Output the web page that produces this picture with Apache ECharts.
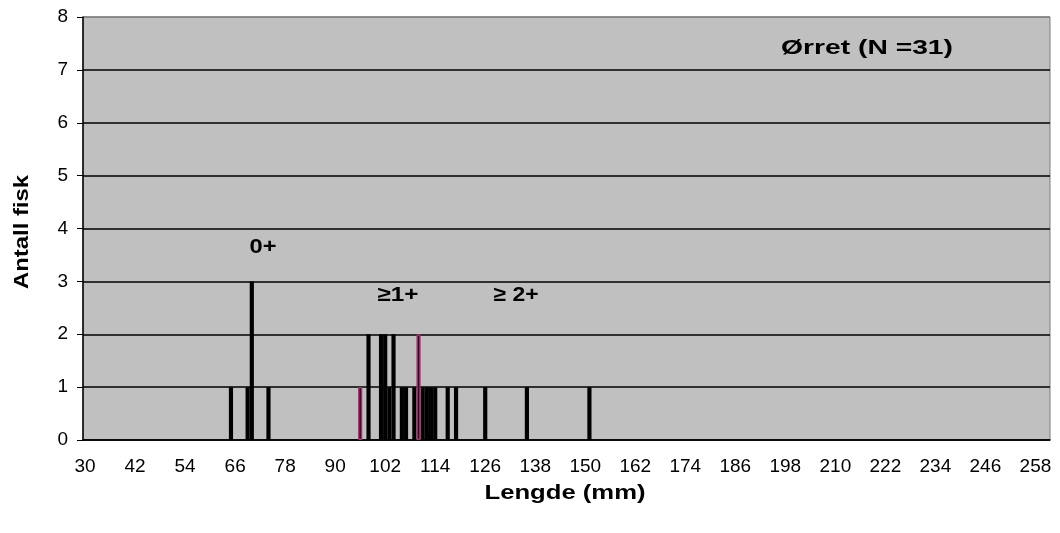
<!DOCTYPE html>
<html>
<head>
<meta charset="utf-8">
<script src="https://cdn.jsdelivr.net/npm/echarts@6/dist/echarts.min.js"></script>
<style>
html,body{margin:0;padding:0;background:#fff;}
#c{width:1060px;height:533px;}
</style>
</head>
<body>
<div id="c"></div>
<script>
// ---- data ----
const firstLength = 30;
const lastLength = 261;
const lengthsBlack = [65, 69, 70, 74, 98, 101, 102, 103, 104, 106, 107, 109, 111, 112, 113, 114, 117, 119, 126, 136, 151];
const countsBlack  = [1, 1, 3, 1, 2, 2, 2, 1, 2, 1, 1, 1, 1, 1, 1, 1, 1, 1, 1, 1, 1];
const lengthsMagenta = [96, 110];
const countsMagenta  = [1, 2];
const yTicks = [0, 1, 2, 3, 4, 5, 6, 7, 8];
const titleText = 'Ørret (N =31)';
const ageLabels = ['0+', '≥1+', '≥ 2+'];
const xName = 'Lengde (mm)';
const yName = 'Antall fisk';

const categories = [];
for (let v = firstLength; v <= lastLength; v++) categories.push(String(v));
function toSeries(lengths, counts) {
  const arr = categories.map(() => null);
  lengths.forEach((l, i) => { arr[l - firstLength] = counts[i]; });
  return arr;
}

const chart = echarts.init(document.getElementById('c'), null, {renderer: 'canvas'});

const boldFont = 'bold 21px "Liberation Sans", Arial, sans-serif';
const ctx = document.createElement('canvas').getContext('2d');
ctx.font = boldFont;
function sx(text, target) { return target / ctx.measureText(text).width; }

function label(text, x, y, width, rot) {
  return {
    type: 'text', x: x, y: y, rotation: rot || 0, z: 100,
    scaleX: sx(text, width),
    style: {text: text, font: boldFont, fill: '#000', align: 'center', verticalAlign: 'middle'}
  };
}

const gridColors = yTicks.map((t, i) => i === yTicks.length - 1 ? '#7f7f7f' : '#000');

chart.setOption({
  animation: false,
  backgroundColor: '#fff',
  grid: {left: 83, top: 17, right: 10, bottom: 93, show: true, backgroundColor: '#c0c0c0', borderColor: '#7f7f7f', borderWidth: 1},
  xAxis: {
    type: 'category',
    data: categories,
    axisLine: {lineStyle: {color: '#000', width: 1.5}},
    axisTick: {interval: 0, length: 6, lineStyle: {color: '#000', width: 1}},
    axisLabel: {interval: 11, color: '#000', fontSize: 19, fontFamily: '"Liberation Sans", Arial', margin: 17},
    splitLine: {show: false}
  },
  yAxis: {
    type: 'value', min: 0, max: 8, interval: 1,
    axisLine: {show: true, lineStyle: {color: '#000', width: 1.5}},
    axisTick: {show: true, length: 6, lineStyle: {color: '#000'}},
    axisLabel: {color: '#000', fontSize: 19, fontFamily: '"Liberation Sans", Arial', margin: 15},
    splitLine: {show: true, lineStyle: {color: gridColors, width: 1.5}}
  },
  series: [
    {type: 'bar', data: toSeries(lengthsBlack, countsBlack), barWidth: '100%', barGap: '-100%',
     itemStyle: {color: '#000', borderColor: '#000', borderWidth: 1.6}, z: 3},
    {type: 'bar', data: toSeries(lengthsMagenta, countsMagenta), barWidth: '100%', barGap: '-100%',
     itemStyle: {color: '#3a0a22', borderColor: '#a0306a', borderWidth: 1.4}, z: 4}
  ],
  graphic: [
    label(titleText, 867, 48, 172),
    label(ageLabels[0], 263, 247, 27),
    label(ageLabels[1], 398, 295, 41),
    label(ageLabels[2], 516, 295, 45),
    label(xName, 565, 493, 161),
    label(yName, 22, 232, 114, Math.PI / 2)
  ]
});
</script>
</body>
</html>
